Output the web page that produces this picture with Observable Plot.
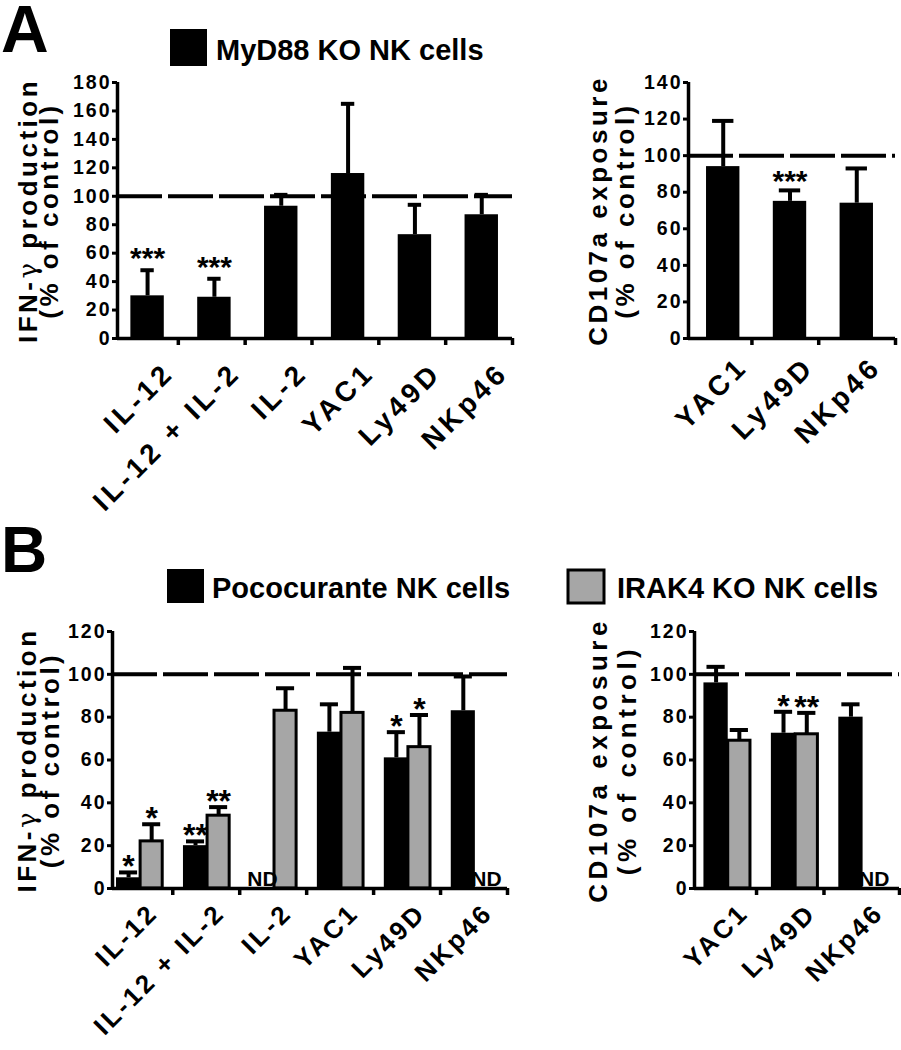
<!DOCTYPE html>
<html><head><meta charset="utf-8">
<script src="https://cdn.jsdelivr.net/npm/d3@7"></script>
<script src="https://cdn.jsdelivr.net/npm/@observablehq/plot@0.6"></script>
<style>
html,body{margin:0;padding:0;background:#fff;}
#root{position:relative;width:901px;height:1050px;overflow:hidden;background:#fff;}
</style></head><body><div id="root"></div>
<script>
const FONT = '"Liberation Sans", Arial, Helvetica, sans-serif';

// ---------- Panel A data (MyD88 KO NK cells) ----------
const aSeries = ["MyD88 KO NK cells"];
const aIfnCategories = ["IL-12", "IL-12 + IL-2", "IL-2", "YAC1", "Ly49D", "NKp46"];
const aIfnMyd88 = [30, 29, 93, 116, 73, 87];
const aIfnMyd88Err = [18, 13, 8, 49, 21, 14];
const aIfnMyd88Sig = ["***", "***", "", "", "", ""];
const aIfnTicks = [0, 20, 40, 60, 80, 100, 120, 140, 160, 180];

const aCdCategories = ["YAC1", "Ly49D", "NKp46"];
const aCdMyd88 = [94, 75, 74];
const aCdMyd88Err = [25, 6, 19];
const aCdMyd88Sig = ["", "***", ""];
const aCdTicks = [0, 20, 40, 60, 80, 100, 120, 140];

// ---------- Panel B data (Pococurante / IRAK4 KO NK cells) ----------
const bSeries = ["Pococurante NK cells", "IRAK4 KO NK cells"];
const bIfnCategories = ["IL-12", "IL-12 + IL-2", "IL-2", "YAC1", "Ly49D", "NKp46"];
const bIfnPoco = [5, 20, null, 73, 61, 83];
const bIfnPocoErr = [2.5, 2, null, 13, 12, 16];
const bIfnPocoSig = ["*", "**", "", "", "*", ""];
const bIfnIrak = [22, 34, 83, 82, 66, null];
const bIfnIrakErr = [8, 4, 10.5, 21, 15, null];
const bIfnIrakSig = ["*", "**", "", "", "*", ""];

const bCdCategories = ["YAC1", "Ly49D", "NKp46"];
const bCdPoco = [96, 72.5, 80];
const bCdPocoErr = [7.5, 10, 6];
const bCdPocoSig = ["", "*", ""];
const bCdIrak = [69, 72, null];
const bCdIrakErr = [5, 10, null];
const bCdIrakSig = ["", "**", ""];
const bTicks = [0, 20, 40, 60, 80, 100, 120];

const ifnTitle = ["IFN-γ production", "(% of control)"];
const cdTitle = ["CD107a exposure", "(% of control)"];
const controlLevel = 100;
const ndLabel = "ND";
const panelLetters = ["A", "B"];

const BLACK = "#000";
const GRAY = "#a6a6a6";

function drawPanel(cfg) {
  const rows = [], nd = [];
  cfg.series.forEach(s => {
    cfg.categories.forEach((cat, i) => {
      const c = i + cfg.offset;
      const x1 = c + s.from, x2 = c + s.to, xc = (x1 + x2) / 2;
      const v = s.values[i];
      if (v == null) nd.push({xc, label: ndLabel});
      else rows.push({key: s.key, x1, x2, xc, v, top: v + s.errors[i], sig: s.sig[i]});
    });
  });
  const marks = [
    Plot.ruleY([controlLevel], {strokeWidth: 4, strokeDasharray: "45,6"}),
    ...cfg.series.map(s => Plot.rectY(rows.filter(r => r.key === s.key), {
      x1: "x1", x2: "x2", y1: 0, y2: "v", fill: s.fill,
      stroke: s.stroke || "none", strokeWidth: s.stroke ? 3 : 0
    })),
    Plot.ruleX(rows, {x: "xc", y1: "v", y2: "top", strokeWidth: 4}),
    Plot.ruleY(rows, {y: "top", x1: d => d.xc - cfg.cap, x2: d => d.xc + cfg.cap, strokeWidth: 4}),
    Plot.text(rows.filter(r => r.sig), {x: "xc", y: "top", text: "sig", lineAnchor: "bottom",
      dy: cfg.starDy, fontSize: cfg.starSize, fontWeight: "bold"}),
    Plot.text(nd, {x: "xc", y: 0, text: "label", lineAnchor: "bottom", dy: -3, fontSize: 21, fontWeight: "bold"}),
    Plot.ruleX([cfg.xDomain[0]], {strokeWidth: 3.5}),
    Plot.ruleY([0], {strokeWidth: 3.5}),
    Plot.axisY({ticks: cfg.yTicks, tickSize: 5, tickPadding: 1, fontSize: 19.5, fontWeight: "bold",
      strokeWidth: 3, label: null}),
    Plot.axisX({ticks: cfg.xTicks, tickSize: 7, tickFormat: () => "", strokeWidth: 3.5, label: null}),
    Plot.text(cfg.categories, {x: (d, i) => i + cfg.offset, frameAnchor: "bottom", text: d => d,
      rotate: -45, textAnchor: "end", lineAnchor: "bottom", dx: cfg.labelDx, dy: cfg.labelDy,
      fontSize: cfg.labelSize, fontWeight: "bold", ariaDescription: "xlabel"}),
    Plot.text([cfg.titles[0]], {frameAnchor: "left", text: d => d, rotate: -90, textAnchor: "middle",
      lineAnchor: "bottom", dx: cfg.titleDx[0], fontSize: 26, fontWeight: "bold", ariaDescription: "ytitle"}),
    Plot.text([cfg.titles[1]], {frameAnchor: "left", text: d => d, rotate: -90, textAnchor: "middle",
      lineAnchor: "bottom", dx: cfg.titleDx[1], fontSize: 26, fontWeight: "bold", ariaDescription: "ytitle"})
  ];
  const svg = Plot.plot({
    width: cfg.width, height: cfg.height,
    marginTop: cfg.m[0], marginRight: cfg.m[1], marginBottom: cfg.m[2], marginLeft: cfg.m[3],
    x: {type: "linear", domain: cfg.xDomain},
    y: {type: "linear", domain: cfg.yDomain},
    marks
  });
  const s = d3.select(svg);
  s.style("position", "absolute").style("left", cfg.left + "px").style("top", cfg.top + "px")
   .style("background", "transparent").style("overflow", "visible")
   .style("font-family", FONT).style("color", "black").style("max-width", "none");
  s.selectAll('g[aria-label="y-axis tick label"]').style("letter-spacing", "2px");
  s.selectAll('g[aria-description="xlabel"]').style("letter-spacing", cfg.labelLs);
  s.selectAll('g[aria-description="ytitle"]').style("letter-spacing", cfg.titleLs);
  // render the Greek gamma in a thin serif face, as in the original figure
  s.selectAll('g[aria-description="ytitle"] text').each(function () {
    const t = this.textContent;
    const k = t.indexOf("γ");
    if (k < 0) return;
    const el = d3.select(this);
    el.text(null);
    el.append("tspan").text(t.slice(0, k));
    el.append("tspan").attr("font-weight", "normal").attr("font-family", "DejaVu Serif, serif").text("γ");
    el.append("tspan").text(t.slice(k + 1));
  });
  document.getElementById("root").appendChild(svg);
}

const single = (vals, errs, sig) => [{key: "s", values: vals, errors: errs, sig, fill: BLACK, from: -0.25, to: 0.25}];
const pair = (v1, e1, s1, v2, e2, s2) => [
  {key: "poco", values: v1, errors: e1, sig: s1, fill: BLACK, from: -0.36, to: 0},
  {key: "irak", values: v2, errors: e2, sig: s2, fill: GRAY, stroke: BLACK, from: 0, to: 0.33}
];

// A left
drawPanel({
  left: 0, top: 40, width: 540, height: 470, m: [42, 28, 172, 117],
  categories: aIfnCategories, series: single(aIfnMyd88, aIfnMyd88Err, aIfnMyd88Sig),
  xDomain: [0.09, 6], xTicks: [1, 2, 3, 4, 5, 6], yDomain: [0, 180], yTicks: aIfnTicks,
  offset: 0.54, cap: 0.1, starSize: 30, starDy: -2,
  labelSize: 28, labelLs: "4px", labelDx: 28, labelDy: 36,
  titles: ifnTitle, titleDx: [-81, -60], titleLs: "3.5px"
});
// A right
drawPanel({
  left: 560, top: 40, width: 341, height: 470, m: [42, 6, 172, 128],
  categories: aCdCategories, series: single(aCdMyd88, aCdMyd88Err, aCdMyd88Sig),
  xDomain: [0.05, 3.15], xTicks: [1, 2, 3.15], yDomain: [0, 140], yTicks: aCdTicks,
  offset: 0.57, cap: 0.16, starSize: 30, starDy: 1,
  labelSize: 28, labelLs: "4px", labelDx: 26, labelDy: 30,
  titles: cdTitle, titleDx: [-82, -55], titleLs: "3.5px"
});
// B left
drawPanel({
  left: 0, top: 600, width: 540, height: 440, m: [31, 33, 152, 112],
  categories: bIfnCategories,
  series: pair(bIfnPoco, bIfnPocoErr, bIfnPocoSig, bIfnIrak, bIfnIrakErr, bIfnIrakSig),
  xDomain: [0.1, 6], xTicks: [1, 2, 3, 4, 5, 6], yDomain: [0, 120], yTicks: bTicks,
  offset: 0.52, cap: 0.135, starSize: 32, starDy: 5,
  labelSize: 26, labelLs: "3px", labelDx: 19, labelDy: 26,
  titles: ifnTitle, titleDx: [-77, -54], titleLs: "3.5px"
});
// B right
drawPanel({
  left: 560, top: 600, width: 341, height: 440, m: [31, 2, 152, 134],
  categories: bCdCategories,
  series: pair(bCdPoco, bCdPocoErr, bCdPocoSig, bCdIrak, bCdIrakErr, bCdIrakSig),
  xDomain: [0.08, 3.12], xTicks: [1, 2, 3.12], yDomain: [0, 120], yTicks: bTicks,
  offset: 0.58, cap: 0.135, starSize: 32, starDy: 5,
  labelSize: 26, labelLs: "3px", labelDx: 22, labelDy: 26,
  titles: cdTitle, titleDx: [-88, -59], titleLs: "4.5px"
});

// Panel letters and legends
const ov = d3.select("#root").append("svg")
  .attr("width", 901).attr("height", 1050)
  .style("position", "absolute").style("left", 0).style("top", 0)
  .style("font-family", FONT).style("font-weight", "bold");
ov.append("text").attr("x", 1).attr("y", 52).attr("font-size", 66).text(panelLetters[0]);
ov.append("text").attr("x", 1).attr("y", 572).attr("font-size", 64).text(panelLetters[1]);

const legendItems = [
  {label: aSeries[0], fill: BLACK, x: 170, y: 29, w: 37, h: 37, tx: 216, ty: 60},
  {label: bSeries[0], fill: BLACK, x: 167, y: 569, w: 37, h: 34, tx: 212, ty: 598},
  {label: bSeries[1], fill: GRAY, stroke: BLACK, x: 568, y: 570, w: 36, h: 33, tx: 617, ty: 598}
];
legendItems.forEach(d => {
  ov.append("rect").attr("x", d.x).attr("y", d.y).attr("width", d.w).attr("height", d.h)
    .attr("fill", d.fill).attr("stroke", d.stroke || "none").attr("stroke-width", 3);
  ov.append("text").attr("x", d.tx).attr("y", d.ty).attr("font-size", 29).text(d.label);
});
</script>
</body></html>
